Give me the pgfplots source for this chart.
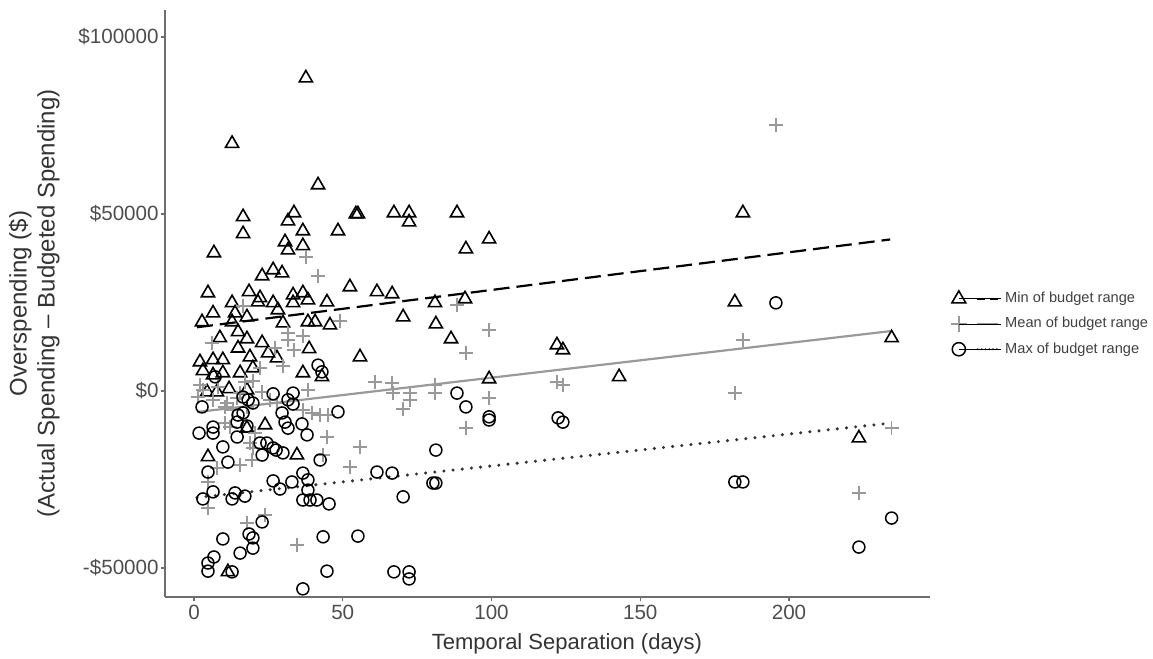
\documentclass[border=0pt]{standalone}
\usepackage{fontspec}
\setmainfont{Liberation Sans}
\usepackage{pgfplots}
\usepackage{pgfplotstable}
\pgfplotsset{compat=1.18}
\definecolor{tickgrey}{HTML}{4D4D4D}
\definecolor{meangrey}{HTML}{999999}
\definecolor{axisgrey}{HTML}{6E6E6E}

\pgfplotstableread{
x y
37.6 88400
12.8 69900
41.7 58200
16.5 49200
33.6 50300
31.6 48000
36.6 45200
48.4 45200
16.5 44400
30.6 42100
31.6 39800
36.6 41000
6.7 39000
26.6 34200
29.6 33300
22.9 32500
52.4 29400
4.7 27700
18.5 28000
12.8 24900
22.2 26300
26.6 24900
33.3 27100
36.6 27700
38.3 25700
44.7 25100
55.1 50000
54.4 50000
67.2 50300
72.3 50300
72.3 47700
88.4 50300
99.2 42900
91.4 40100
61.5 28000
66.6 27400
81.0 24900
91.1 26000
70.3 20900
81.3 18900
86.4 14700
122.0 13000
124.0 11600
55.8 9600
99.2 3400
142.9 4000
184.5 50300
181.8 25100
234.5 15000
223.5 -13300
21.5 25100
33.3 24900
6.4 22000
2.7 19500
13.8 22000
17.8 20900
12.8 19500
28.2 22900
29.9 19200
38.3 19500
40.7 19500
45.7 18600
8.7 15000
14.8 16700
17.8 14700
22.9 13600
14.8 12100
24.9 10700
38.7 11900
18.8 9600
27.9 9300
2.0 8200
6.4 8800
9.7 8800
3.0 5700
9.7 5100
6.4 4500
15.5 5100
19.8 6500
36.6 5100
43.0 4000
4.4 -300
7.7 -300
11.8 600
17.8 300
23.9 -9600
17.8 -10500
34.6 -18100
4.7 -18600
11.4 -51100
}\mintable

\pgfplotstableread{
x y
37.6 37900
41.7 32500
49.1 19800
16.5 24000
31.6 16400
36.6 15500
31.6 14400
33.6 11600
6.1 13600
27.2 12100
29.9 7100
22.2 6500
19.8 2800
17.1 2500
60.8 2500
3.0 300
1.3 -1700
38.3 300
6.4 -2500
11.1 -3400
25.5 -2500
27.9 -3400
13.1 -5400
17.8 -4500
36.6 -5400
39.7 -6200
42.4 -6800
45.0 -6800
10.4 -9000
14.5 -2000
88.4 24300
99.2 17200
91.4 10700
66.6 2300
66.9 -600
72.6 -600
72.6 -2500
70.3 -5100
81.0 1700
81.0 -600
99.2 -2000
91.4 -10500
122.0 2500
124.0 1700
55.8 -15800
195.6 75100
184.5 14400
181.8 -600
234.5 -10500
223.5 -28800
12.1 -10200
18.8 -14700
19.8 -16100
44.7 -13000
43.4 -18100
52.4 -21500
15.5 -20900
7.7 -21800
4.7 -25700
4.7 -33100
23.9 -35000
17.8 -37300
34.6 -43500
10.4 -4500
20.5 -11900
19.5 -19500
2.0 1700
8.1 1100
22.9 -300
15.5 -600
}\meantable

\pgfplotstableread{
x y
41.7 7300
43.0 5400
7.1 4000
26.6 -800
33.3 -600
31.6 -2500
33.3 -3700
2.7 -4500
16.5 -1700
18.2 -2500
19.8 -3400
48.4 -5900
29.6 -6200
16.5 -6200
30.6 -8800
36.3 -9300
6.4 -10200
14.5 -8800
17.8 -9900
31.6 -10500
38.0 -12400
1.7 -11900
6.4 -11900
14.5 -13000
9.7 -15800
22.2 -14700
24.5 -14700
26.6 -16100
27.6 -16700
29.9 -17500
22.9 -18100
11.4 -20100
42.4 -19500
4.7 -22900
26.6 -25400
28.9 -27700
32.9 -25700
36.6 -23200
38.3 -25100
38.3 -28000
6.4 -28500
13.8 -28800
17.1 -29700
12.8 -30500
3.0 -30500
36.6 -30800
39.0 -30800
41.3 -30800
45.4 -31900
22.9 -37000
18.5 -40400
19.8 -41500
9.7 -41800
19.8 -44400
15.5 -45800
6.7 -46900
4.7 -48600
4.7 -50900
12.8 -51100
43.4 -41200
44.7 -50900
36.6 -55900
55.1 -41000
91.4 -4500
99.2 -7300
99.2 -8200
122.4 -7600
124.0 -8800
81.3 -16700
61.5 -22900
66.6 -23200
80.3 -26000
81.3 -26000
70.3 -29900
67.2 -51100
72.3 -51100
72.3 -53100
88.4 -600
195.6 24900
181.8 -25700
184.5 -25700
234.5 -35900
223.5 -44100
14.8 -6800
}\maxtable

\begin{document}
\begin{tikzpicture}
\useasboundingbox (-82.5pt,-31pt) rectangle (494pt,298.5pt);
\begin{axis}[
  at={(0pt,0pt)}, anchor=south west,
  scale only axis, width=382.5pt, height=293.5pt,
  xmin=-9.75, xmax=247.4, ymin=-58200, ymax=107630,
  axis x line*=bottom, axis y line*=left,
  axis line style={-, draw=axisgrey, line width=0.9pt},
  xtick={0,50,100,150,200}, xticklabels={0,50,100,150,200},
  ytick={-50000,0,50000,100000},
  yticklabels={-\$50000,\$0,\$50000,\$100000},
  tick align=outside, major tick length=2pt,
  tick style={draw=axisgrey, line width=0.6pt},
  tick label style={font=\fontsize{10.3}{12}\selectfont, text=tickgrey},
  yticklabel style={inner sep=1pt},
  xticklabel style={inner sep=2pt},
  scaled ticks=false,
  every axis x label/.style={at={(axis description cs:0.5255,-0.080)}, anchor=center, font=\fontsize{11}{13}\selectfont, text=black!80},
  every axis y label/.style={at={(axis description cs:-0.171,0.5)}, rotate=90, anchor=center, align=center, font=\fontsize{12}{14}\selectfont, text=black!80},
  xlabel={Temporal Separation (days)},
  ylabel={Overspending (\$)\\(Actual Spending – Budgeted Spending)},
  legend style={draw=none, fill=none, at={(axis description cs:1.0267,0.465)}, anchor=west,
    font=\fontsize{7.3}{9}\selectfont, text=black!75, row sep=1.8pt, inner sep=0pt},
  legend cell align=left,
]
\addplot[only marks, mark=triangle, mark size=3.8pt, mark options={draw=black, line width=0.8pt, fill=none},
  legend image code/.code={
    \draw[black, line width=0.8pt, mark=triangle, mark size=4pt] plot coordinates {(0pt,0pt)};
    \draw[black, line width=1.1pt, dash pattern=on 4pt off 2.5pt] (9pt,0pt) -- (19.5pt,0pt);
    \path (0pt,0pt) -- (21pt,0pt);
  }] table {\mintable};
\addlegendentry{Min of budget range}
\addplot[only marks, mark=+, mark size=3.5pt, mark options={draw=meangrey, line width=0.7pt},
  legend image code/.code={
    \draw[meangrey, line width=0.7pt, mark=+, mark size=4pt] plot coordinates {(0pt,0pt)};
    \draw[meangrey, line width=1pt] (9pt,0pt) -- (19.5pt,0pt);
    \path (0pt,0pt) -- (21pt,0pt);
  }] table {\meantable};
\addlegendentry{Mean of budget range}
\addplot[only marks, mark=o, mark size=3pt, mark options={draw=black, line width=0.75pt, fill=none},
  legend image code/.code={
    \draw[black, line width=0.75pt, mark=o, mark size=3.3pt] plot coordinates {(0pt,0pt)};
    \draw[black!80, line width=1.1pt, line cap=round, dash pattern=on 0pt off 1.9pt] (9.5pt,0pt) -- (19.5pt,0pt);
    \path (0pt,0pt) -- (21pt,0pt);
  }] table {\maxtable};
\addlegendentry{Max of budget range}
\addplot[black, line width=1.1pt, dash pattern=on 8pt off 3.5pt, forget plot] coordinates {(1,18000) (234,42800)};
\addplot[meangrey, line width=1.1pt, forget plot] coordinates {(1,-5950) (234,16900)};
\addplot[black!80, line width=1.7pt, line cap=round, dash pattern=on 0pt off 4.6pt, forget plot] coordinates {(1,-30100) (234,-9100)};
\end{axis}
\end{tikzpicture}
\end{document}
